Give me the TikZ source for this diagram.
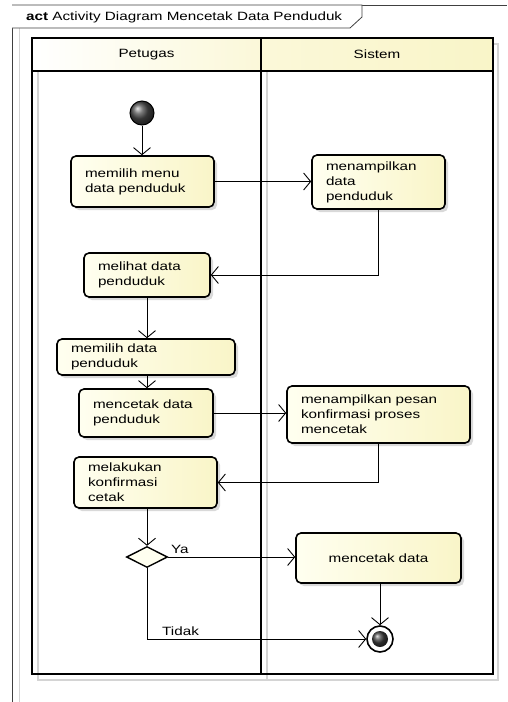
\documentclass[tikz,border=0pt]{standalone}
\usepackage{fontspec}
\setmainfont{Liberation Sans}[FakeStretch=1.27]
\usepackage{tikz}
\usepackage{tkz-euclide}
\usetikzlibrary{arrows.meta,shapes.geometric,shadows}
\pgfdeclarelayer{bg}
\pgfsetlayers{bg,main}
\definecolor{kuning}{RGB}{249,245,200}
\definecolor{kuningmuda}{RGB}{255,255,240}
\definecolor{bayang}{RGB}{212,212,212}
\tikzset{
    teks/.style={inner sep=0pt, font=\fontsize{12}{15}\selectfont},
    aksi/.style={draw, line width=1.6pt, rounded corners=5pt, left color=kuningmuda, right color=kuning,
        align=left, inner xsep=14pt, inner ysep=2pt, font=\fontsize{12}{15}\selectfont,
        drop shadow={shadow xshift=3pt, shadow yshift=-3pt, opacity=0.25, fill=black!60}},
    alur/.style={line width=0.8pt, -{Straight Barb[length=7pt,width=17pt,line width=0.9pt]}},
    mulai/.style={circle, draw, line width=1pt, minimum size=24pt, inner sep=0pt, ball color=gray!60!black},
    akhir/.style={circle, draw, line width=1.6pt, minimum size=26pt, inner sep=0pt, fill=white},
    akhirdalam/.style={circle, minimum size=16pt, inner sep=0pt, ball color=gray!50!black},
    keputusan/.style={diamond, draw, line width=1.4pt, aspect=2, minimum width=41pt, minimum height=21pt,
        inner sep=0pt, fill=kuningmuda},
    lajur/.style={line width=2.6pt, black}
}

\begin{document}
\begin{tikzpicture}[x=1pt,y=-1pt]
                        \useasboundingbox (0,0) rectangle (507,702);
                        \tkzDefPoints{32/38/A, 493/38/B, 493/674/C, 32/674/D, 32/71/E, 493/71/F, 261/38/G, 261/674/H}
                        \tkzDefPoints{12/702/P, 12/5/Q, 507/5/R, 362/5/T1, 362/17/T2, 350/28/T3, 12/28/T4}

                        \begin{pgfonlayer}{bg}
                            \draw[bayang, line width=1.5pt] (38,44) rectangle (498,680);
                            \draw[bayang, line width=1.5pt] (267,71) -- (267,680);
                            \draw[bayang, line width=1pt] (19,28) -- (19,702);
                        \end{pgfonlayer}

                        \draw[black!75, line width=0.8pt] (P) -- (Q) -- (R);
                        \draw[black!75, line width=0.8pt, fill=white] (Q) -- (T1) -- (T2) -- (T3) -- (T4);
                        \node[teks, anchor=west] (judul) at (26,17) {\textbf{act} Activity Diagram Mencetak Data Penduduk};

                        \fill[left color=white, right color=kuning, middle color=kuning!70] (A) rectangle (F);
                        \draw[lajur] (A) rectangle (C);
                        \draw[lajur] (E) -- (F);
                        \draw[lajur] (G) -- (H);
                        \node[teks] (petugas) at (146.5,54.5) {Petugas};
                        \node[teks] (sistem) at (377,54.5) {Sistem};

                        \node[mulai] (S) at (142,113) {};
                        \node[aksi, text width=115pt, minimum height=51pt] (M1) at (142.5,181.5) {memilih menu\\data penduduk};
                        \node[aksi, text width=105pt, minimum height=54pt] (M2) at (378.5,182) {menampilkan\\data\\penduduk};
                        \node[aksi, text width=98pt, minimum height=44pt] (M3) at (147,275) {melihat data\\penduduk};
                        \node[aksi, text width=150pt, minimum height=36pt] (M4) at (146,357) {memilih data\\penduduk};
                        \node[aksi, text width=106pt, minimum height=48pt] (M5) at (146,413) {mencetak data\\penduduk};
                        \node[aksi, text width=155pt, minimum height=57pt] (M6) at (378.5,414.5) {menampilkan pesan\\konfirmasi proses\\mencetak};
                        \node[aksi, text width=115pt, minimum height=51pt] (M7) at (145.5,482.5) {melakukan\\konfirmasi\\cetak};
                        \node[keputusan] (K) at (147,557) {};
                        \node[aksi, text width=137pt, minimum height=50pt, align=center] (M8) at (378.5,558) {mencetak data};
                        \node[akhir] (Z) at (380,639) {};
                        \node[akhirdalam] (Z1) at (Z) {};

                        \draw[alur] (S) -- (S |- M1.north);
                        \draw[alur] (M1.east) -- (M1.east -| M2.west);
                        \draw[alur] (M2.south) |- (M3.east);
                        \draw[alur] (M3.south -| K) -- (K |- M4.north);
                        \draw[alur] (M4.south -| K) -- (K |- M5.north);
                        \draw[alur] (M5.east) -- (M5.east -| M6.west);
                        \draw[alur] (M6.south) |- (M7.east);
                        \draw[alur] (M7.south -| K) -- (K.north);
                        \draw[alur] (K.east) -- (K.east -| M8.west);
                        \draw[alur] (M8.south -| Z) -- (Z.north);
                        \draw[alur] (K.south) |- (Z.west);

                        \node[teks, anchor=south west] (ya) at (171,554) {Ya};
                        \node[teks, anchor=south west] (tidak) at (162,636) {Tidak};
                    \end{tikzpicture}
\end{document}
